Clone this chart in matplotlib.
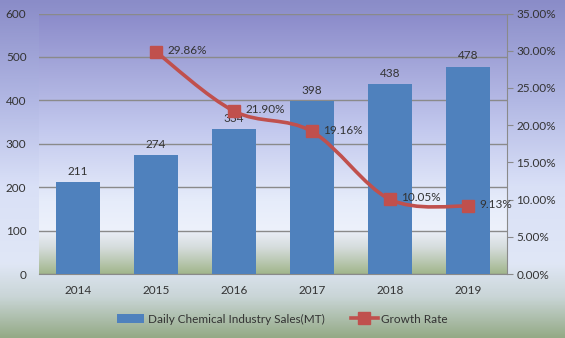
import numpy as np
import matplotlib
matplotlib.use("Agg")
import matplotlib.pyplot as plt
from matplotlib.colors import LinearSegmentedColormap
from matplotlib.path import Path
from matplotlib.patches import PathPatch
from matplotlib.lines import Line2D
from matplotlib.patches import Patch

years = ["2014", "2015", "2016", "2017", "2018", "2019"]
sales = [211, 274, 334, 398, 438, 478]
growth_years = ["2015", "2016", "2017", "2018", "2019"]
growth = [29.86, 21.90, 19.16, 10.05, 9.13]
left_ticks = [0, 100, 200, 300, 400, 500, 600]
right_ticks = [0, 5, 10, 15, 20, 25, 30, 35]

plt.rcParams['font.family'] = ['Lato', 'DejaVu Sans']
TXT = '#333333'
FS = 8.5

fig = plt.figure(figsize=(5.65, 3.38), dpi=100)

# figure background gradient
bg = fig.add_axes([0, 0, 1, 1], zorder=-10)
bg.axis('off')
fig_cmap = LinearSegmentedColormap.from_list('figbg', [
    (0.0, '#8a8cc8'), (0.3, '#b2b8e4'), (0.55, '#d9e0f7'),
    (0.78, '#e0e7f6'), (0.88, '#c9d5d6'), (1.0, '#94aa86')])
bg.imshow(np.linspace(0, 1, 256).reshape(-1, 1), aspect='auto', cmap=fig_cmap,
          extent=[0, 1, 0, 1], transform=bg.transAxes)

ax = fig.add_axes([0.069, 0.189, 0.828, 0.771])
ax.set_facecolor('none')
plot_cmap = LinearSegmentedColormap.from_list('plotbg', [
    (0.0, '#8b8bca'), (0.45, '#c3c9ee'), (0.72, '#e6ecfa'),
    (0.83, '#edf1fb'), (0.9, '#d5dcdc'), (1.0, '#a2b68c')])
ax.imshow(np.linspace(0, 1, 256).reshape(-1, 1), aspect='auto', cmap=plot_cmap,
          extent=[0, 1, 0, 1], transform=ax.transAxes, zorder=0)

x = np.arange(len(years))
ax.bar(x, sales, width=0.57, color='#4f81bd', zorder=3)
for xi, v in zip(x, sales):
    ax.text(xi, v + 12, str(v), ha='center', va='bottom', fontsize=FS, color=TXT, zorder=4)

ax.set_xlim(-0.5, len(years) - 0.5)
ax.set_ylim(0, 600)
ax.set_yticks(left_ticks)
ax.set_xticks(x)
ax.set_xticklabels(years)
ax.grid(axis='y', color='#8a8a8a', linewidth=1.0, zorder=1)
ax.set_axisbelow(False)
for s in ['top', 'right', 'left']:
    ax.spines[s].set_visible(False)
ax.spines['bottom'].set_color('#8a8a8a')
ax.tick_params(axis='y', length=0, pad=9, labelsize=FS, labelcolor=TXT)
ax.tick_params(axis='x', length=0, pad=8, labelsize=FS, labelcolor=TXT)

ax2 = ax.twinx()
ax2.set_ylim(0, 35)
ax2.set_yticks(right_ticks)
ax2.set_yticklabels([f"{t:.2f}%" for t in right_ticks])
ax2.tick_params(axis='y', length=4, color='#8a8a8a', pad=3, labelsize=FS, labelcolor=TXT)
for s in ['top', 'left', 'bottom']:
    ax2.spines[s].set_visible(False)
ax2.spines['right'].set_color('#8a8a8a')

gx = np.array([years.index(y) for y in growth_years], dtype=float)
gy = np.array(growth)
# smooth (Catmull-Rom -> Bezier) line through data points
pts = np.column_stack([gx, gy])
verts = [pts[0]]
codes = [Path.MOVETO]
for i in range(len(pts) - 1):
    p0 = pts[i - 1] if i > 0 else pts[i]
    p1 = pts[i]
    p2 = pts[i + 1]
    p3 = pts[i + 2] if i + 2 < len(pts) else pts[i + 1]
    c1 = p1 + (p2 - p0) / 6
    c2 = p2 - (p3 - p1) / 6
    verts += [c1, c2, p2]
    codes += [Path.CURVE4] * 3
ax2.add_patch(PathPatch(Path(verts, codes), facecolor='none', edgecolor='#c0504d',
                        linewidth=2.6, zorder=5))
ax2.plot(gx, gy, linestyle='none', marker='s', markersize=8, color='#c0504d', zorder=6)
for xi, v in zip(gx, gy):
    ax2.annotate(f"{v:.2f}%", (xi, v), xytext=(8, 1), textcoords='offset points',
                 ha='left', va='center', fontsize=FS, color=TXT, zorder=7)

handles = [Patch(facecolor='#4f81bd', edgecolor='none'),
           Line2D([], [], color='#c0504d', linewidth=2.6, marker='s', markersize=8)]
fig.legend(handles, ['Daily Chemical Industry Sales(MT)', 'Growth Rate'],
           loc='center', bbox_to_anchor=(0.5, 0.056), ncol=2, frameon=False,
           fontsize=FS, labelcolor=TXT, handlelength=2.3, handletextpad=0.3,
           columnspacing=2.2)

fig.savefig('out.png', dpi=100)
